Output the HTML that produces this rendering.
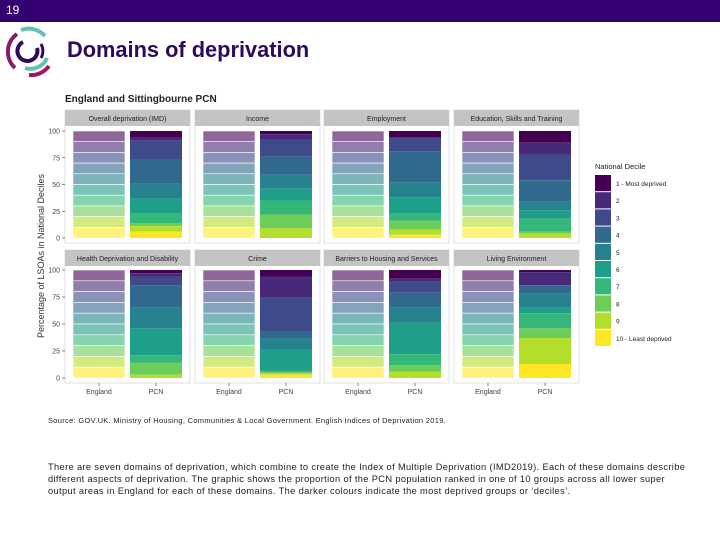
<!DOCTYPE html>
<html><head><meta charset="utf-8"><style>
body{margin:0;width:720px;height:540px;background:#fff;font-family:"Liberation Sans",sans-serif;position:relative;overflow:hidden}
.hdr{position:absolute;left:0;top:0;width:720px;height:22px;background:#330072;color:#fff;font-size:12px}
.hdr span{position:absolute;left:6px;top:3px}
h1{position:absolute;left:67px;top:37px;margin:0;font-size:21.8px;color:#2e0a5e;font-weight:bold}
.src{position:absolute;left:48px;top:416px;font-size:7.5px;color:#222;letter-spacing:0.3px}
.body{position:absolute;left:48px;top:461px;width:640px;font-size:9.3px;line-height:12px;color:#222;letter-spacing:0.35px}
</style></head><body>
<div class="hdr"><span>19</span></div>
<svg style="position:absolute;left:3px;top:24px" width="52" height="54" viewBox="0 0 52 54">
<path d="M14 10 A22 22 0 0 0 12 44" stroke="#8b1a6b" stroke-width="4" fill="none"/>
<path d="M18 6 A22 22 0 0 1 42 12" stroke="#5ec3b0" stroke-width="4" fill="none"/>
<path d="M20 18 A10 10 0 1 0 34 24" stroke="#2e0a5e" stroke-width="4" fill="none"/>
<path d="M22 44 A18 18 0 0 0 44 34" stroke="#5ec3b0" stroke-width="4" fill="none"/>
<path d="M26 51 A22 22 0 0 0 46 42" stroke="#a0156e" stroke-width="4" fill="none"/>
<path d="M38 20 A14 14 0 0 1 38 34" stroke="#2e0a5e" stroke-width="3" fill="none"/>
</svg>
<h1>Domains of deprivation</h1>
<svg id="chart" style="position:absolute;left:0;top:0" width="720" height="540"></svg>
<div class="src">Source: GOV.UK. Ministry of Housing, Communities &amp; Local Government. English Indices of Deprivation 2019.</div>
<div class="body">There are seven domains of deprivation, which combine to create the Index of Multiple Deprivation (IMD2019). Each of these domains describe different aspects of deprivation. The graphic shows the proportion of the PCN population ranked in one of 10 groups across all lower super output areas in England for each of these domains. The darker colours indicate the most deprived groups or ‘deciles’.</div>
<script>
const panels=["Overall deprivation (IMD)","Income","Employment","Education, Skills and Training","Health Deprivation and Disability","Crime","Barriers to Housing and Services","Living Environment"];
const categories=["England","PCN"];
const englandValues=[10,10,10,10,10,10,10,10,10,10];
const pcnIMD=[6,3,18,22,14,14,9,3,5,6];
const pcnIncome=[3,5,16,17,13,11,13,13,9,0];
const pcnEmployment=[6,0,13,29,14,15,7,8,5,3];
const pcnEducation=[11,11,24,20,8,8,12,2,4,0];
const pcnHealth=[3,3,8,21,19,25,7,11,3,0];
const pcnCrime=[6,19,32,6,11,19,2,0,2,3];
const pcnBarriers=[8,3,10,14,14,29,10,6,6,0];
const pcnLiving=[2,12,0,8,13,5,14,9,24,13];
const pcnSeries=[pcnIMD,pcnIncome,pcnEmployment,pcnEducation,pcnHealth,pcnCrime,pcnBarriers,pcnLiving];
const yTicks=[0,25,50,75,100];
const legendLabels=["1 - Most deprived","2","3","4","5","6","7","8","9","10 - Least deprived"];
const colors=["#440154","#482878","#3E4A89","#31688E","#26828E","#1F9E89","#35B779","#6DCD59","#B4DE2C","#FDE725"];
const NS="http://www.w3.org/2000/svg";
const svg=document.getElementById('chart');
function mk(t,a,p){const e=document.createElementNS(NS,t);for(const k in a)e.setAttribute(k,a[k]);(p||svg).appendChild(e);return e;}
let t=mk('text',{x:65,y:102,'font-size':10,'font-weight':'bold',fill:'#222'});t.textContent="England and Sittingbourne PCN";


t=mk('text',{x:0,y:0,'font-size':9,fill:'#333',transform:'translate(44,256) rotate(-90)','text-anchor':'middle'});t.textContent="Percentage of LSOAs in National Deciles";


const px=[65,195,324,454], pw=125;
const rows=[{strip:110,top:131,bot:238,pb:243},{strip:250,top:270,bot:378,pb:383}];
function yS(r,v){return r.bot-(r.bot-r.top)*v/100;}
panels.forEach((name,i)=>{
  const r=rows[Math.floor(i/4)], x0=px[i%4];
  const g=mk('g',{});
  
  
  mk('rect',{x:x0,y:r.strip,width:pw,height:r.pb-r.strip,fill:'#fff',stroke:'#d9d9d9','stroke-width':0.8},g);
  mk('rect',{x:x0,y:r.strip,width:pw,height:16,fill:'#c4c4c4'},g);
  const st=mk('text',{x:x0+pw/2,y:r.strip+11,'font-size':7,'text-anchor':'middle',fill:'#222'},g);st.textContent=name;
  
  
  [englandValues,pcnSeries[i]].forEach((vals,j)=>{
    const bx=x0+8+j*57, bw=52; let cum=100;
    vals.forEach((v,k)=>{
      if(v<=0)return;
      const y1=yS(r,cum), y2=yS(r,cum-v); cum-=v;
      const b=mk('rect',{x:bx,y:y1,width:bw,height:y2-y1,fill:colors[k],'fill-opacity':j==0?0.6:1,stroke:j==0?'#fff':'none','stroke-width':0.6},g);
      
      
    });
    if(i>=4){
      mk('line',{x1:bx+bw/2,x2:bx+bw/2,y1:r.pb,y2:r.pb+3,stroke:'#555','stroke-width':0.7});
      const xl=mk('text',{x:bx+bw/2,y:r.pb+11,'font-size':7,'text-anchor':'middle',fill:'#444'});xl.textContent=categories[j];
      
      
    }
  });
  if(i%4==0){
    yTicks.forEach(v=>{
      mk('line',{x1:x0-3,x2:x0,y1:yS(r,v),y2:yS(r,v),stroke:'#555','stroke-width':0.7});
      const yl=mk('text',{x:x0-5,y:yS(r,v)+2.5,'font-size':7,'text-anchor':'end',fill:'#444'});yl.textContent=v;
      
      
    });
  }
});
t=mk('text',{x:595,y:169,'font-size':7.5,fill:'#222'});t.textContent="National Decile";


legendLabels.forEach((l,k)=>{
  const g=mk('g',{});
  
  
  mk('rect',{x:595,y:175+k*17.2,width:16,height:16.2,fill:colors[k]},g);
  const tx=mk('text',{x:616,y:186+k*17.2,'font-size':6.5,fill:'#222'},g);tx.textContent=l;
});
</script>
</body></html>
